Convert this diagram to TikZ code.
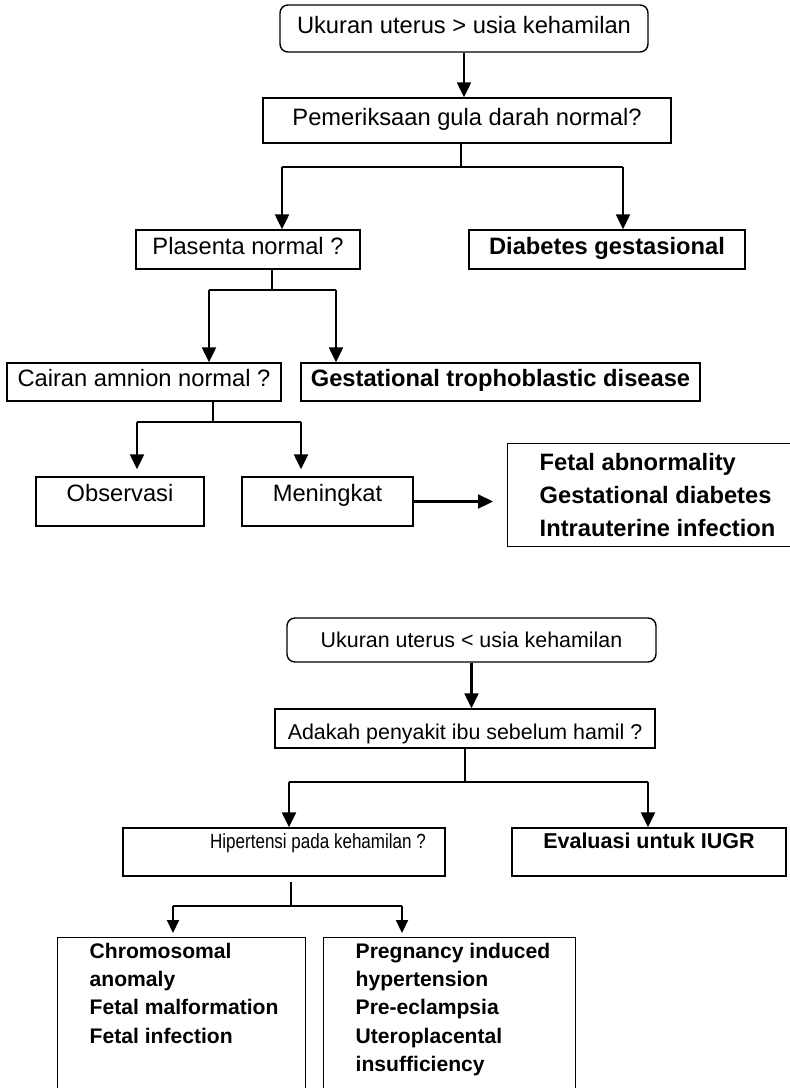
\documentclass[tikz,border=0pt]{standalone}
\usepackage{fontspec}
\setmainfont{Liberation Sans}
\usetikzlibrary{arrows.meta}

% multi-line list inside a fixed-size box: width, height, first baseline, lines
\newcommand\listbox[4]{%
  \begin{minipage}[c][#2][t]{#1}\setlength\parindent{0pt}\setlength\leftskip{32pt}%
  \rule{0pt}{#3}#4\end{minipage}}

\begin{document}
\begin{tikzpicture}[x=1pt,y=-1pt,
  ink/.style={draw=black,line width=1.4pt},
  box/.style={ink,inner sep=0pt,text height=17pt,text depth=8pt},
  caphi/.style={text height=17pt,text depth=17pt},
  capmid/.style={text height=15.4pt,text depth=0pt},
  caplow/.style={text height=25pt,text depth=3.6pt},
  capvhi/.style={text height=15pt,text depth=22.2pt},
  rbox/.style={box,rounded corners=8pt},
  ft/.style={font=\fontsize{23.7}{28}\selectfont},
  fb/.style={font=\fontsize{23.7}{28}\selectfont\bfseries},
  fs/.style={font=\fontsize{21.4}{26}\selectfont},
  fsb/.style={font=\fontsize{21.5}{26}\selectfont\bfseries},
  fn/.style={font=\fontsize{20.5}{26}\selectfont},
  ln/.style={draw=black,line width=1.6pt},
  arr/.style={draw=black,line width=2.3pt,-{Triangle[length=15pt,width=14pt]}},
  arrs/.style={draw=black,line width=2pt,-{Triangle[length=13pt,width=12pt]}},
]
\useasboundingbox (0,0) rectangle (790,1088);
\clip (0,0) rectangle (790,1088);

% ---------- uterus larger than gestational age ----------
\node[rbox,ft,minimum width=368pt,minimum height=47pt] (A) at (464,28.5) {Ukuran uterus > usia kehamilan};
\node[box,ft,minimum width=408pt,minimum height=45pt] (B) at (467,120.5) {Pemeriksaan gula darah normal?};
\node[box,ft,minimum width=224pt,minimum height=39pt] (C) at (248,249.5) {Plasenta normal ?};
\node[box,fb,minimum width=276pt,minimum height=39pt] (D) at (607,249.5) {Diabetes gestasional};
\node[box,ft,minimum width=274pt,minimum height=38pt] (E) at (144,382) {Cairan amnion normal ?};
\node[box,fb,minimum width=399pt,minimum height=38pt] (F) at (500.5,382) {Gestational trophoblastic disease};
\node[box,ft,caphi,minimum width=168pt,minimum height=49pt] (G) at (120,501.5) {Observasi};
\node[box,ft,caphi,minimum width=171pt,minimum height=49pt] (H) at (327.5,501.5) {Meningkat};
\node[ink,inner sep=0pt,anchor=north west,font=\fontsize{23.7}{33}\selectfont\bfseries] (I) at (507,443)
  {\listbox{286pt}{103pt}{26.6pt}{Fetal abnormality\\Gestational diabetes\\Intrauterine infection}};

\coordinate (Bl) at (282,167);
\coordinate (Br) at (623,167);
\coordinate (Cl) at (209,290);
\coordinate (Cr) at (336,290);
\coordinate (El) at (137,422);
\coordinate (Er) at (301,422);

\draw[arr] (A.south) -- (A.south |- B.north);
\draw[ln] ([xshift=-6pt]B.south) coordinate (Bs) -- (Bs |- Bl);
\draw[ln] (Bl) -- (Br);
\draw[arr] (Bl) -- (Bl |- C.north);
\draw[arr] (Br) -- (Br |- D.north);
\draw[ln] ([xshift=24pt]C.south) coordinate (Cs) -- (Cs |- Cl);
\draw[ln] (Cl) -- (Cr);
\draw[arr] (Cl) -- (Cl |- E.north);
\draw[arr] (Cr) -- (Cr |- F.north);
\draw[ln] ([xshift=69pt]E.south) coordinate (Es) -- (Es |- El);
\draw[ln] (El) -- (Er);
\draw[arr,shorten >=7pt] (El) -- (El |- G.north);
\draw[arr,shorten >=7pt] (Er) -- (Er |- H.north);
\draw[arr,shorten >=14pt] (H.east) -- (H.east -| I.west);

% ---------- uterus smaller than gestational age ----------
\node[rbox,fs,capmid,minimum width=369pt,minimum height=44pt] (J) at (471.5,640) {Ukuran uterus < usia kehamilan};
\node[box,fs,caplow,minimum width=380pt,minimum height=39pt] (K) at (465,728.5) {Adakah penyakit ibu sebelum hamil ?};
\node[box,fn,capvhi,minimum width=322pt,minimum height=48pt] (L) at (284,852)
  {\hspace*{68pt}\scalebox{0.83}[1]{Hipertensi pada kehamilan ?}};
\node[box,fsb,capvhi,minimum width=274pt,minimum height=48pt] (M) at (649,852) {Evaluasi untuk IUGR};
\node[ink,inner sep=0pt,anchor=north west,font=\fontsize{21.1}{28.3}\selectfont\bfseries] (N) at (57,937)
  {\listbox{248pt}{173pt}{20.6pt}{Chromosomal\\anomaly\\Fetal malformation\\Fetal infection}};
\node[ink,inner sep=0pt,anchor=north west,font=\fontsize{21.1}{28.3}\selectfont\bfseries] (O) at (323,937)
  {\listbox{252pt}{173pt}{20.6pt}{Pregnancy induced\\hypertension\\Pre-eclampsia\\Uteroplacental\\insufficiency}};

\coordinate (Kl) at (289,782);
\coordinate (Kr) at (648,782);
\coordinate (Ll) at (173,906);
\coordinate (Lr) at (402,906);

\draw[arr] (J.south) -- (J.south |- K.north);
\draw[ln] (K.south) -- (K.south |- Kl);
\draw[ln] (Kl) -- (Kr);
\draw[arr] (Kl) -- (Kl |- L.north);
\draw[arr] (Kr) -- (Kr |- M.north);
\draw[ln] ([xshift=7pt,yshift=-5pt]L.south) coordinate (Ls) -- (Ls |- Ll);
\draw[ln] (Ll) -- (Lr);
\draw[arrs,shorten >=4pt] (Ll) -- (Ll |- N.north);
\draw[arrs,shorten >=4pt] (Lr) -- (Lr |- O.north);
\end{tikzpicture}
\end{document}
